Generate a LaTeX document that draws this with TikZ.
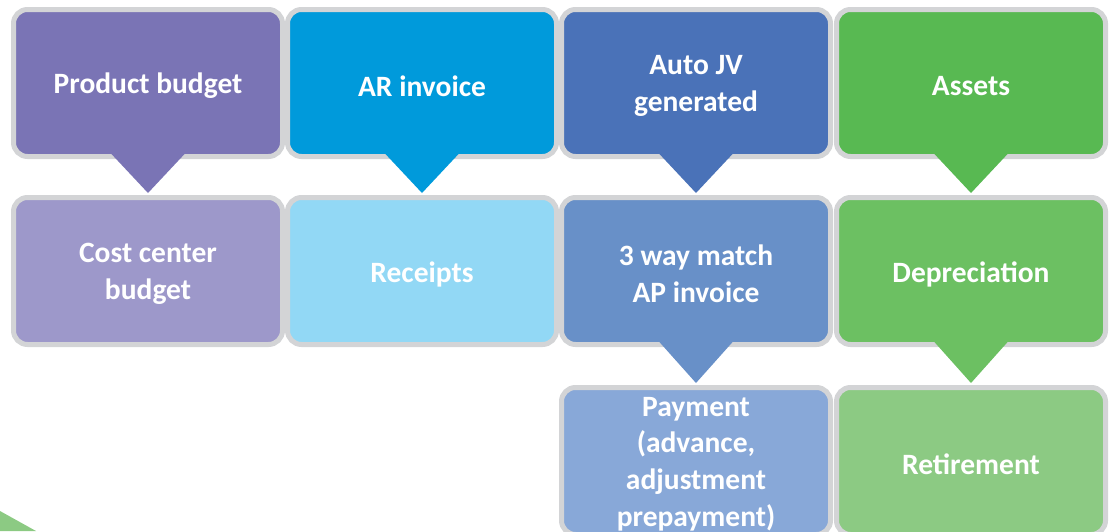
\documentclass[tikz,border=0pt]{standalone}
\usepackage{fontspec}
\setmainfont{Carlito}
\usetikzlibrary{calc}
\definecolor{borderc}{HTML}{D3D4D6}
\definecolor{purA}{HTML}{7A74B5}
\definecolor{purB}{HTML}{9D98CA}
\definecolor{bluA}{HTML}{009ADB}
\definecolor{bluB}{HTML}{92D8F5}
\definecolor{navA}{HTML}{4A72B8}
\definecolor{navB}{HTML}{6890C8}
\definecolor{navC}{HTML}{88A8D8}
\definecolor{grnA}{HTML}{58B952}
\definecolor{grnB}{HTML}{6CC062}
\definecolor{grnC}{HTML}{8CCA83}
\tikzset{
  stepbox/.style={rectangle, rounded corners=14pt, draw=borderc, line width=5pt,
    minimum width=269pt, minimum height=147pt, inner sep=0pt},
  steptext/.style={inner sep=0pt, align=center, text=white,
    font=\fontsize{29.5}{36.7}\selectfont\bfseries}
}
\newcommand{\pointto}[3]{\fill[#3] ($(#1.south)+(-37.5pt,6pt)$) -- ($(#1.south)+(37.5pt,6pt)$) -- ($(#2.north)+(0pt,2pt)$) -- cycle;}
\newcommand{\boxtext}[3]{\node[steptext] (#1) at ([yshift=-3pt]#2.center) {#3};}
\begin{document}
\begin{tikzpicture}[x=1pt,y=-1pt]
\useasboundingbox (0,0) rectangle (1111,531);
\clip (0,0) rectangle (1111,531);
% row 1
\node[stepbox, fill=purA] (pb) at (148,83) {};
\node[stepbox, fill=bluA] (ar) at (422,83) {};
\node[stepbox, fill=navA] (jv) at (696,83) {};
\node[stepbox, fill=grnA] (as) at (971,83) {};
% row 2
\node[stepbox, fill=purB] (cc) at (148,271) {};
\node[stepbox, fill=bluB] (rc) at (422,271) {};
\node[stepbox, fill=navB] (tw) at (696,271) {};
\node[stepbox, fill=grnB] (dp) at (971,271) {};
% row 3
\node[stepbox, fill=navC] (pm) at (696,461) {};
\node[stepbox, fill=grnC] (rt) at (971,461) {};
% pointers
\pointto{pb}{cc}{purA}
\pointto{ar}{rc}{bluA}
\pointto{jv}{tw}{navA}
\pointto{as}{dp}{grnA}
\pointto{tw}{pm}{navB}
\pointto{dp}{rt}{grnB}
% texts
\boxtext{pbt}{pb}{Product budget}
\boxtext{art}{ar}{AR invoice}
\boxtext{jvt}{jv}{Auto JV\\generated}
\boxtext{ast}{as}{Assets}
\boxtext{cct}{cc}{Cost center\\budget}
\boxtext{rct}{rc}{Receipts}
\boxtext{twt}{tw}{3 way match\\AP invoice}
\boxtext{dpt}{dp}{Depreciation}
\boxtext{pmt}{pm}{Payment\\(advance,\\adjustment\\prepayment)}
\boxtext{rtt}{rt}{Retirement}
% corner shape
\fill[grnC] (0,511) -- (36,531) -- (0,531) -- cycle;
\end{tikzpicture}
\end{document}
